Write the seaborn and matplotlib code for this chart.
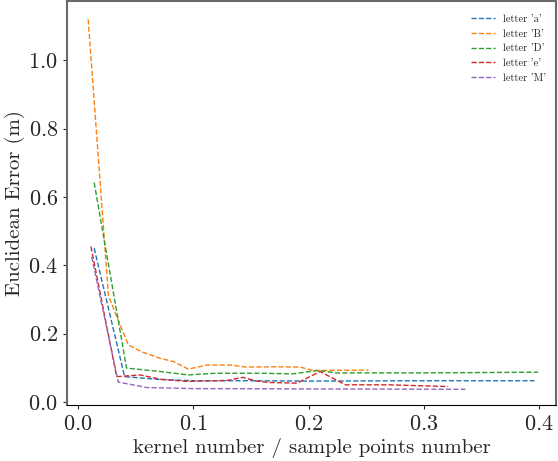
import matplotlib
matplotlib.use("Agg")
import matplotlib.pyplot as plt
import seaborn as sns

# kernel number / sample points number vs euclidean error, one series per letter
a_x = [0.0141, 0.0405, 0.070, 0.100, 0.150, 0.200, 0.300, 0.396]
a_y = [0.450, 0.074, 0.066, 0.062, 0.062, 0.061, 0.062, 0.062]

B_x = [0.0089, 0.0265, 0.0437, 0.055, 0.071, 0.083, 0.0957, 0.112, 0.132, 0.146, 0.172, 0.1925, 0.204, 0.252]
B_y = [1.120, 0.310, 0.167, 0.147, 0.128, 0.118, 0.096, 0.108, 0.108, 0.102, 0.103, 0.102, 0.092, 0.093]

D_x = [0.0141, 0.0422, 0.0711, 0.0957, 0.120, 0.158, 0.186, 0.208, 0.224, 0.300, 0.399]
D_y = [0.642, 0.099, 0.089, 0.079, 0.084, 0.084, 0.082, 0.092, 0.085, 0.085, 0.087]

e_x = [0.0113, 0.0336, 0.054, 0.072, 0.095, 0.130, 0.143, 0.155, 0.165, 0.190, 0.210, 0.232, 0.270, 0.321]
e_y = [0.455, 0.074, 0.079, 0.066, 0.060, 0.063, 0.072, 0.061, 0.057, 0.055, 0.089, 0.050, 0.050, 0.045]

M_x = [0.0119, 0.035, 0.060, 0.100, 0.200, 0.336]
M_y = [0.425, 0.058, 0.042, 0.039, 0.038, 0.037]

series = [("letter 'a'", a_x, a_y), ("letter 'B'", B_x, B_y), ("letter 'D'", D_x, D_y),
          ("letter 'e'", e_x, e_y), ("letter 'M'", M_x, M_y)]

sns.set_style("ticks")
plt.rcParams['font.family'] = ['serif']
plt.rcParams['font.serif'] = ['cmr10', 'DejaVu Serif']
plt.rcParams['mathtext.fontset'] = 'cm'
plt.rcParams['axes.formatter.use_mathtext'] = True

fig = plt.figure(figsize=(5.58, 4.61), dpi=100)
ax = fig.add_axes([0.12, 0.1215, 0.8764, 0.8765])

colors = sns.color_palette("tab10", 5)
for (name, xs, ys), c in zip(series, colors):
    sns.lineplot(x=xs, y=ys, ax=ax, color=c, linestyle="--", linewidth=1.0, label=name)

ax.set_xlim(-0.0095, 0.4146)
ax.set_ylim(-0.009, 1.174)
ax.set_xticks([0.0, 0.1, 0.2, 0.3, 0.4])
ax.set_yticks([0.0, 0.2, 0.4, 0.6, 0.8, 1.0])
ax.tick_params(labelsize=16, length=3)
ax.set_xlabel("kernel number / sample points number", fontsize=15, labelpad=3)
ax.set_ylabel("Euclidean Error (m)", fontsize=15, labelpad=2)

for side in ["left", "top", "right"]:
    ax.spines[side].set_color("dimgray")
    ax.spines[side].set_linewidth(1.5)
ax.spines["bottom"].set_color("black")

ax.legend(loc="upper right", frameon=False, fontsize=7.5, handlelength=2.3,
          bbox_to_anchor=(1.0, 0.99))

fig.savefig("out.png", dpi=100)
